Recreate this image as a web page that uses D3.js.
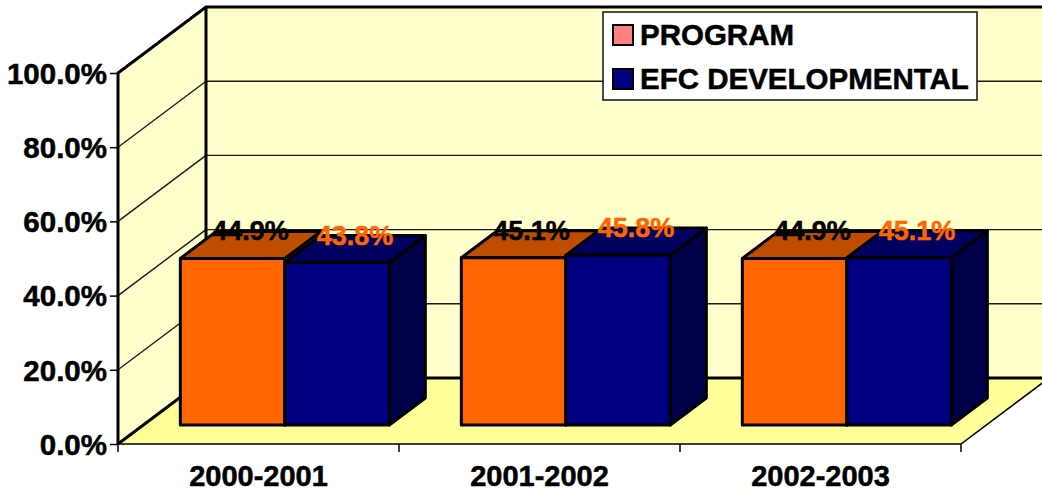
<!DOCTYPE html>
<html>
<head>
<meta charset="utf-8">
<script src="https://cdn.jsdelivr.net/npm/d3@7"></script>
<style>
  html, body { margin: 0; padding: 0; background: #fff; overflow: hidden; }
  text { font-family: "Liberation Sans", Arial, sans-serif; font-weight: bold; stroke-width: 0.5px; paint-order: stroke; }
</style>
</head>
<body>
<div id="chart"></div>
<script>
var categories = ["2000-2001", "2001-2002", "2002-2003"];
var seriesNames = ["PROGRAM", "EFC DEVELOPMENTAL"];
var programValues = [44.9, 45.1, 44.9];
var efcValues = [43.8, 45.8, 45.1];
var yTicks = [0, 20, 40, 60, 80, 100];

var width = 1042;
var height = 495;

/* 3D box: how far the back wall is shifted from the front plane */
var wallDx = 88;
var wallDy = 66;
var barDepthStart = 19 / 66;
var barDx = 36;
var barDy = 27;

var faceColors = ["#ff6600", "#000080"];
var topColors = ["#bf4d00", "#000060"];
var sideColors = ["#993d00", "#000048"];
var labelColors = ["#000000", "#ff6600"];
var legendColors = ["#ff8080", "#000080"];

/* Scale */
var yScale = d3.scaleLinear().domain([0, 100]).range([444, 73]);
var xScale = d3.scaleBand().domain(categories).range([118, 961]);
var seriesScale = d3.scaleBand().domain([0, 1]).range([37, 246]);

var svg = d3
  .select("#chart")
  .append("svg")
  .attr("width", width)
  .attr("height", height)
  .style("display", "block");

var x0 = xScale.range()[0];
var x1 = xScale.range()[1];
var yBase = yScale(0);
var yTop = yScale(100);

function poly(points, fill, stroke, strokeWidth) {
  return svg
    .append("polygon")
    .attr("points", points.map((p) => p.join(",")).join(" "))
    .attr("fill", fill)
    .attr("stroke", stroke || "none")
    .attr("stroke-width", strokeWidth || 0)
    .attr("stroke-linejoin", "round");
}

/* Walls and floor */
poly([[x0 + wallDx, yTop - wallDy], [width + 10, yTop - wallDy], [width + 10, yBase - wallDy], [x0 + wallDx, yBase - wallDy]], "#ffffcc");
poly([[x0, yTop], [x0 + wallDx, yTop - wallDy], [x0 + wallDx, yBase - wallDy], [x0, yBase]], "#ffffcc");
poly([[x0, yBase], [x0 + wallDx, yBase - wallDy], [x1 + wallDx, yBase - wallDy], [x1, yBase]], "#ffff99");

/* Gridlines */
var grid = svg.append("g").attr("fill", "none").attr("stroke", "#1a1a1a").attr("stroke-width", 1.4);
yTicks.slice(1, -1).forEach(function (t) {
  grid.append("line").attr("x1", x0).attr("y1", yScale(t)).attr("x2", x0 + wallDx).attr("y2", yScale(t) - wallDy);
  grid.append("line").attr("x1", x0 + wallDx).attr("y1", yScale(t) - wallDy).attr("x2", width + 10).attr("y2", yScale(t) - wallDy);
});

/* Heavy frame */
var frame = d3.line();
svg
  .append("path")
  .attr("fill", "none")
  .attr("stroke", "#000")
  .attr("stroke-width", 3)
  .attr("stroke-linejoin", "round")
  .attr("d", frame([[x0, yBase], [x0, yTop], [x0 + wallDx, yTop - wallDy], [width + 10, yTop - wallDy]]));
svg
  .append("path")
  .attr("fill", "none")
  .attr("stroke", "#000")
  .attr("stroke-width", 3)
  .attr("d", frame([[x0 + wallDx, yTop - wallDy], [x0 + wallDx, yBase - wallDy], [x1 + wallDx, yBase - wallDy]]));
svg
  .append("path")
  .attr("fill", "none")
  .attr("stroke", "#000")
  .attr("stroke-width", 3)
  .attr("d", frame([[x0, yBase], [x0 + wallDx, yBase - wallDy]]));
svg
  .append("path")
  .attr("fill", "none")
  .attr("stroke", "#000")
  .attr("stroke-width", 1.5)
  .attr("d", frame([[x0, yBase], [x1, yBase], [x1 + wallDx, yBase - wallDy]]));

/* Bars */
var series = [programValues, efcValues];
var labels = [];
categories.forEach(function (cat, c) {
  [0, 1].forEach(function (s) {
    var v = series[s][c];
    var bx = xScale(cat) + seriesScale(s) + wallDx * barDepthStart;
    var bw = seriesScale.bandwidth();
    var by = yBase - wallDy * barDepthStart;
    var ty = by - (yBase - yScale(v));

    poly([[bx + bw, by], [bx + bw + barDx, by - barDy], [bx + bw + barDx, ty - barDy], [bx + bw, ty]], sideColors[s], "#000", 3);
    poly([[bx, ty], [bx + barDx, ty - barDy], [bx + bw + barDx, ty - barDy], [bx + bw, ty]], topColors[s], "#000", 3);
    poly([[bx, by], [bx, ty], [bx + bw, ty], [bx + bw, by]], faceColors[s], "#000", 3);

    labels.push({ x: bx + bw / 2 + 18, y: ty - 18, v: v, color: labelColors[s] });
  });
});

/* Value labels sit on top of the bars */
svg
  .selectAll(".value-label")
  .data(labels)
  .enter()
  .append("text")
  .attr("class", "value-label")
  .attr("x", (d) => d.x)
  .attr("y", (d) => d.y)
  .attr("text-anchor", "middle")
  .attr("font-size", 27)
  .attr("fill", (d) => d.color)
  .attr("stroke", (d) => d.color)
  .text((d) => d.v.toFixed(1) + "%");

/* Axes */
var yAxis = d3
  .axisLeft(yScale)
  .tickValues(yTicks)
  .tickSize(8)
  .tickPadding(3)
  .tickFormat((d) => d.toFixed(1) + "%");
var yG = svg.append("g").attr("transform", `translate(${x0}, 0)`).call(yAxis);
yG.select(".domain").remove();
yG.selectAll("line").attr("stroke", "#000").attr("stroke-width", 1.5);
yG.selectAll("text").attr("font-size", 29.5).attr("fill", "#000").attr("stroke", "#000").attr("dy", "0.35em");

var xAxis = d3.axisBottom(xScale).tickSize(0).tickPadding(21);
var xG = svg.append("g").attr("transform", `translate(0, ${yBase})`).call(xAxis);
xG.select(".domain").remove();
xG.selectAll("text").attr("font-size", 29).attr("fill", "#000").attr("stroke", "#000").attr("dy", "0.71em");
var xEdges = categories.map((c) => xScale(c)).concat([x1]);
xG.selectAll(".edge-tick")
  .data(xEdges)
  .enter()
  .append("line")
  .attr("class", "edge-tick")
  .attr("x1", (d) => d)
  .attr("x2", (d) => d)
  .attr("y1", 0)
  .attr("y2", 8)
  .attr("stroke", "#000")
  .attr("stroke-width", 1.5);

/* Legend */
var legend = svg.append("g").attr("transform", "translate(603, 12)");
legend
  .append("rect")
  .attr("width", 374)
  .attr("height", 88)
  .attr("fill", "#fff")
  .attr("stroke", "#111")
  .attr("stroke-width", 1.5);
var legendRows = legend
  .selectAll(".legend-row")
  .data(seriesNames)
  .enter()
  .append("g")
  .attr("class", "legend-row")
  .attr("transform", (d, i) => `translate(0, ${13 + i * 44})`);
legendRows
  .append("rect")
  .attr("x", 10)
  .attr("width", 20)
  .attr("height", 20)
  .attr("fill", (d, i) => legendColors[i])
  .attr("stroke", "#000")
  .attr("stroke-width", 2);
legendRows
  .append("text")
  .attr("x", 37)
  .attr("y", 20)
  .attr("font-size", 29.5)
  .attr("fill", "#000")
  .attr("stroke", "#000")
  .text((d) => d);
</script>
</body>
</html>
